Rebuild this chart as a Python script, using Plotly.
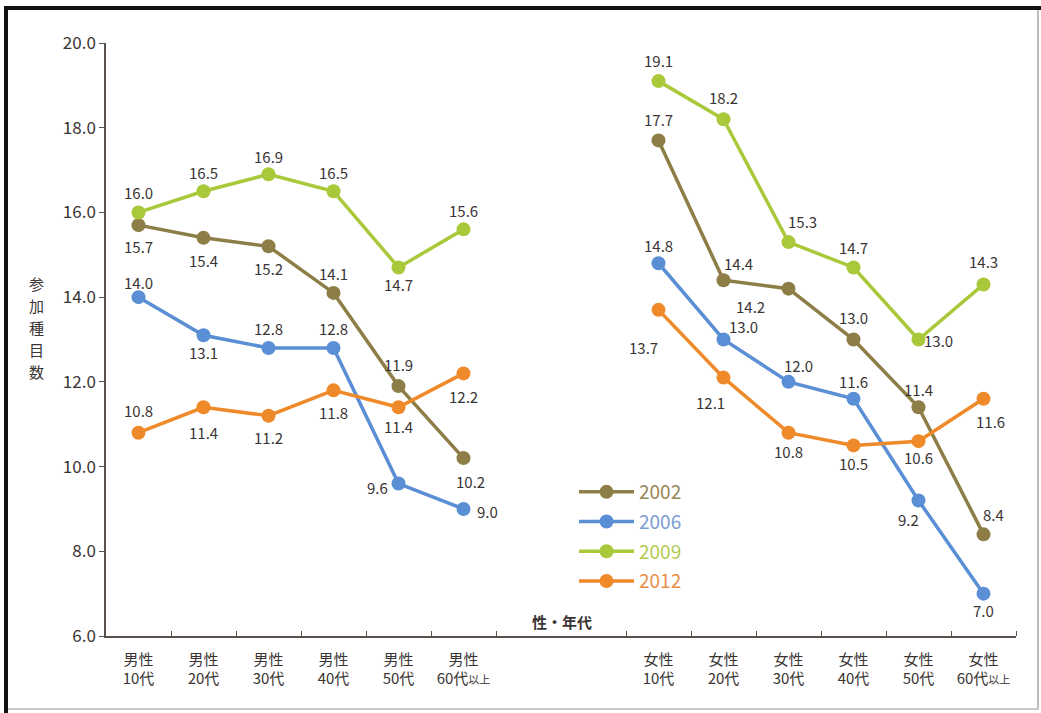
import plotly.graph_objects as go

# ---- data ----
categories = ["男性<br>10代", "男性<br>20代", "男性<br>30代", "男性<br>40代", "男性<br>50代",
              "男性<br>60代<span style='font-size:11px'>以上</span>",
              "女性<br>10代", "女性<br>20代", "女性<br>30代", "女性<br>40代", "女性<br>50代",
              "女性<br>60代<span style='font-size:11px'>以上</span>"]
years = ["2002", "2006", "2009", "2012"]
v2002 = [15.7, 15.4, 15.2, 14.1, 11.9, 10.2, 17.7, 14.4, 14.2, 13.0, 11.4, 8.4]
v2006 = [14.0, 13.1, 12.8, 12.8, 9.6, 9.0, 14.8, 13.0, 12.0, 11.6, 9.2, 7.0]
v2009 = [16.0, 16.5, 16.9, 16.5, 14.7, 15.6, 19.1, 18.2, 15.3, 14.7, 13.0, 14.3]
v2012 = [10.8, 11.4, 11.2, 11.8, 11.4, 12.2, 13.7, 12.1, 10.8, 10.5, 10.6, 11.6]
y_ticks = [6.0, 8.0, 10.0, 12.0, 14.0, 16.0, 18.0, 20.0]
y_title_chars = ["参", "加", "種", "目", "数"]

# ---- styling ----
xpos = [0, 1, 2, 3, 4, 5, 8, 9, 10, 11, 12, 13]
colors = ["#8C7E46", "#5A8FD5", "#A9C93B", "#EF8A2A"]
legend_text_colors = ["#978759", "#7C9DD0", "#B3CB52", "#E98F48"]
series = [v2002, v2006, v2009, v2012]
# label offsets in px (dx, dy up-positive)
offsets = [
    [(0, -21), (0, -23), (0, -22), (0, 19), (0, 22), (7, -23),
     (0, 21), (15, 17), (-38, -18), (0, 22), (0, 18), (10, 20)],
    [(0, 15), (0, -17), (0, 19), (0, 19), (-21, -4), (24, -3),
     (0, 18), (20, 13), (10, 16), (0, 17), (-10, -19), (0, -17)],
    [(0, 20), (0, 19), (0, 18), (0, 19), (0, -17), (0, 19),
     (0, 21), (0, 22), (14, 21), (0, 20), (20, -1), (0, 23)],
    [(0, 22), (0, -25), (0, -22), (0, -22), (0, -19), (0, -23),
     (-15, -38), (-13, -25), (0, -19), (0, -18), (0, -16), (7, -23)],
]

fig = go.Figure()
for yr, vals, col, tcol in zip(years, series, colors, legend_text_colors):
    for seg in (slice(0, 6), slice(6, 12)):
        fig.add_trace(go.Scatter(
            x=xpos[seg], y=vals[seg], mode="lines+markers",
            line=dict(color=col, width=3.5),
            marker=dict(color=col, size=14),
            name=f"<span style='color:{tcol}'>{yr}</span>",
            legendgroup=yr, showlegend=(seg.start == 0),
            hoverinfo="skip",
        ))

annotations = []
for vals, offs in zip(series, offsets):
    for x, v, (dx, dy) in zip(xpos, vals, offs):
        annotations.append(dict(
            x=x, y=v, xref="x", yref="y", text=f"{v:.1f}", showarrow=False,
            xshift=dx, yshift=dy,
            font=dict(family="Noto Sans CJK JP", size=15, color="#3a3434"),
        ))


def px_x(p):
    return (p - 106) / 910


def px_y(p):
    return (636 - p) / 593


# axis titles
annotations.append(dict(x=px_x(562), y=px_y(621), xref="paper", yref="paper",
                        xanchor="center", yanchor="middle",
                        text="<b>性・年代</b>", showarrow=False,
                        font=dict(family="Noto Sans CJK JP", size=15, color="#3a3434")))
for i, ch in enumerate(y_title_chars):
    annotations.append(dict(x=px_x(36), y=px_y(283 + 22 * i), xref="paper", yref="paper",
                            xanchor="center", yanchor="middle",
                            text=ch, showarrow=False,
                            font=dict(family="Noto Sans CJK JP", size=15, color="#3a3434")))

# frame
shapes = [
    dict(type="line", xref="paper", yref="paper", x0=px_x(4), x1=px_x(1041), y0=px_y(8), y1=px_y(8),
         line=dict(color="#111111", width=4)),
    dict(type="line", xref="paper", yref="paper", x0=px_x(6), x1=px_x(6), y0=px_y(6), y1=px_y(713),
         line=dict(color="#111111", width=4)),
    dict(type="line", xref="paper", yref="paper", x0=px_x(1038), x1=px_x(1038), y0=px_y(10), y1=px_y(710),
         line=dict(color="#bdbdbd", width=2)),
    dict(type="line", xref="paper", yref="paper", x0=px_x(8), x1=px_x(1039), y0=px_y(709), y1=px_y(709),
         line=dict(color="#c8c8c8", width=2)),
]

fig.update_layout(
    width=1041, height=713,
    margin=dict(l=106, r=25, t=43, b=77),
    paper_bgcolor="white", plot_bgcolor="white",
    font=dict(family="Noto Sans CJK JP", color="#3a3434"),
    showlegend=True,
    legend=dict(x=px_x(574), y=px_y(473), xanchor="left", yanchor="top",
                font=dict(family="Noto Sans CJK JP", size=19),
                bgcolor="rgba(0,0,0,0)", itemwidth=55, tracegroupgap=2,
                traceorder="grouped"),
    xaxis=dict(range=[-0.5, 13.5], tickmode="array", tickvals=xpos, ticktext=categories,
               ticks="", showgrid=False, zeroline=False, showline=True,
               linecolor="#5a504c", linewidth=1.5, ticklabelstandoff=9,
               tickfont=dict(family="Noto Sans CJK JP", size=15, color="#3a3434"),
               minor=dict(tickmode="array",
                          tickvals=[0.5, 1.5, 2.5, 3.5, 4.5, 5.5, 7.5, 8.5, 9.5, 10.5, 11.5, 12.5, 13.5],
                          ticks="inside", ticklen=5, tickcolor="#5a504c", tickwidth=1.2, showgrid=False),
               fixedrange=True),
    yaxis=dict(range=[6, 20], tickmode="array", tickvals=y_ticks,
               ticktext=[f"{t:.1f}" for t in y_ticks],
               ticks="outside", ticklen=5, tickcolor="#5a504c", tickwidth=1.2,
               showgrid=False, zeroline=False, showline=True, linecolor="#5a504c", linewidth=1.5,
               tickfont=dict(family="Noto Sans CJK JP", size=17, color="#3a3434"),
               fixedrange=True),
    annotations=annotations,
    shapes=shapes,
)

fig.write_html("out.html")
